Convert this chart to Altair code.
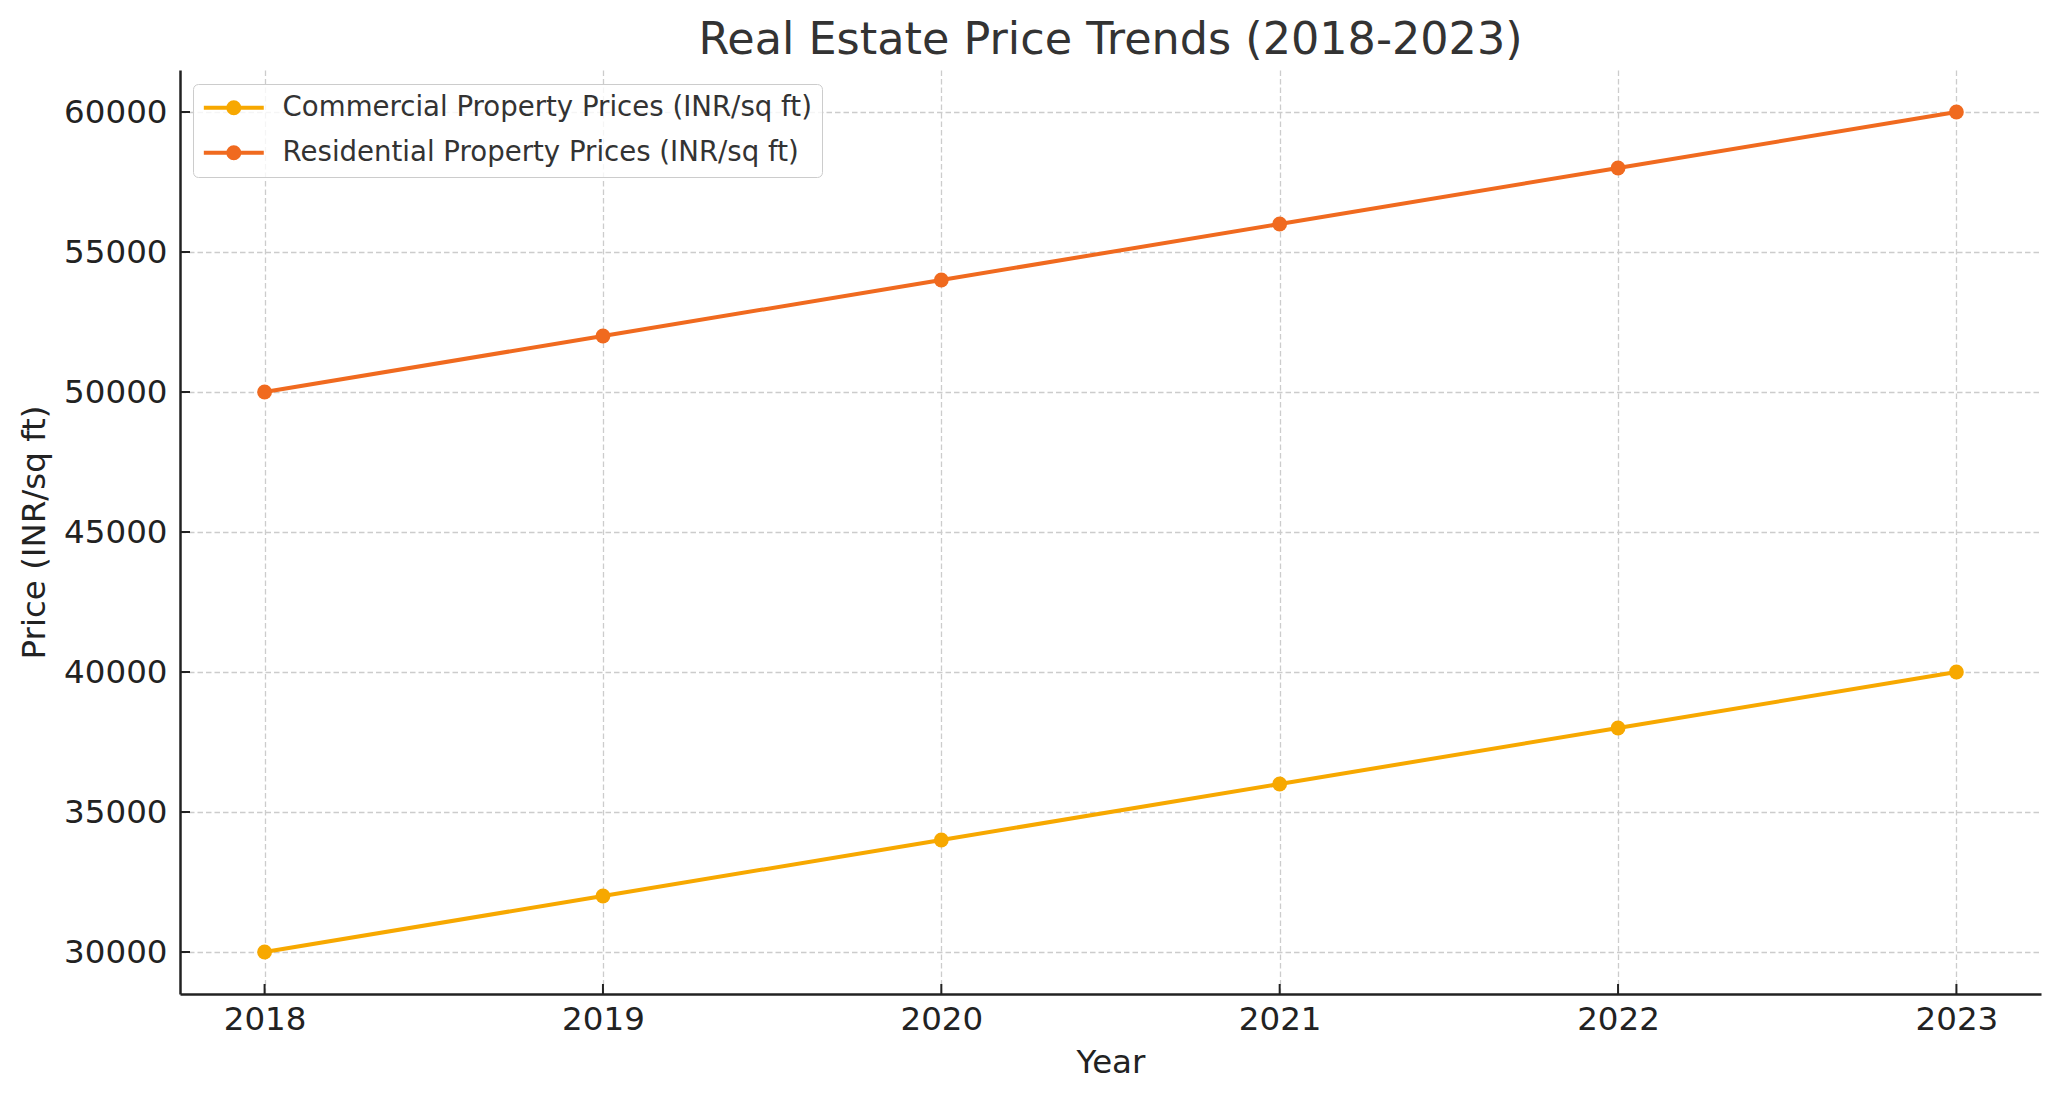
import altair as alt
import pandas as pd

years = [2018, 2019, 2020, 2021, 2022, 2023]
commercial = [30000, 32000, 34000, 36000, 38000, 40000]
residential = [50000, 52000, 54000, 56000, 58000, 60000]
series_names = ["Commercial Property Prices (INR/sq ft)", "Residential Property Prices (INR/sq ft)"]
series_colors = ["#f7a800", "#f06a1f"]
y_ticks = [30000, 35000, 40000, 45000, 50000, 55000, 60000]
x_ticks = years

rows = []
for y, c, r in zip(years, commercial, residential):
    rows.append({"year": y, "price": c, "series": series_names[0]})
    rows.append({"year": y, "price": r, "series": series_names[1]})
df = pd.DataFrame(rows)

FONT = "DejaVu Sans"
W, H = 1861, 924

xscale = alt.Scale(domain=[2017.75, 2023.25], nice=False, zero=False)
yscale = alt.Scale(domain=[28500, 61500], nice=False, zero=False)

grid = dict(gridColor="#cccccc", gridDash=[5.5, 3], gridWidth=1.3, gridOpacity=1)

xaxis = alt.Axis(values=x_ticks, format="d", title="Year", ticks=False,
                 labelFont=FONT, labelFontSize=32.5, labelColor="#222222", labelPadding=9,
                 titleFont=FONT, titleFontSize=32.5, titleFontWeight="normal", titleColor="#222222",
                 titlePadding=11, domainColor="#222222", domainWidth=2.5, **grid)
yaxis = alt.Axis(values=y_ticks, format="d", title="Price (INR/sq ft)", ticks=False,
                 labelFont=FONT, labelFontSize=32.5, labelColor="#222222", labelPadding=13,
                 titleFont=FONT, titleFontSize=32.5, titleFontWeight="normal", titleColor="#222222",
                 titlePadding=12, domainColor="#222222", domainWidth=2.5, **grid)

def circ(cx, r):
    return f"M{cx - r:.3f} 0A{r} {r} 0 1 0 {cx + r:.3f} 0A{r} {r} 0 1 0 {cx - r:.3f} 0"

sym_path = "M-1.18 0L4.27 0" + circ(1.545, 0.5) + circ(1.545, 0.18)

legend = alt.Legend(title=None, orient="none", legendX=13, legendY=14,
                    symbolType=sym_path, symbolSize=484, symbolStrokeWidth=4, symbolOpacity=1,
                    labelFont=FONT, labelFontSize=27.6, labelColor="#333333", labelLimit=1000,
                    labelOffset=52, padding=10, rowPadding=16,
                    strokeColor="#cccccc", fillColor="rgba(255,255,255,0.8)", cornerRadius=5)

color = alt.Color("series:N", scale=alt.Scale(domain=series_names, range=series_colors),
                  sort=series_names, legend=legend)

lines = alt.Chart(df).mark_line(strokeWidth=4).encode(
    x=alt.X("year:Q", scale=xscale, axis=xaxis),
    y=alt.Y("price:Q", scale=yscale, axis=yaxis),
    color=color,
)
points = alt.Chart(df).mark_circle(size=219, opacity=1).encode(
    x=alt.X("year:Q", scale=xscale),
    y=alt.Y("price:Q", scale=yscale),
    color=alt.Color("series:N", scale=alt.Scale(domain=series_names, range=series_colors), legend=None),
)

ytick_df = pd.DataFrame({"price": y_ticks})
xtick_df = pd.DataFrame({"year": x_ticks})
yticks = alt.Chart(ytick_df).mark_rule(color="#222222", strokeWidth=2).encode(
    y=alt.Y("price:Q", scale=yscale), x=alt.value(0), x2=alt.value(10))
xticks = alt.Chart(xtick_df).mark_rule(color="#222222", strokeWidth=2).encode(
    x=alt.X("year:Q", scale=xscale), y=alt.value(H), y2=alt.value(H - 10))

chart = alt.layer(lines, points, yticks, xticks).properties(
    width=W, height=H,
    background="white",
    title=alt.TitleParams("Real Estate Price Trends (2018-2023)", font=FONT, fontSize=44.5,
                          fontWeight="normal", color="#333333", anchor="middle",
                          baseline="alphabetic", offset=-28),
    autosize=alt.AutoSizeParams(type="none"),
    padding={"left": 172, "top": 62, "right": 10, "bottom": 100},
).configure_view(stroke=None)

chart.save("out.html", embed_options={"renderer": "svg", "actions": False})
